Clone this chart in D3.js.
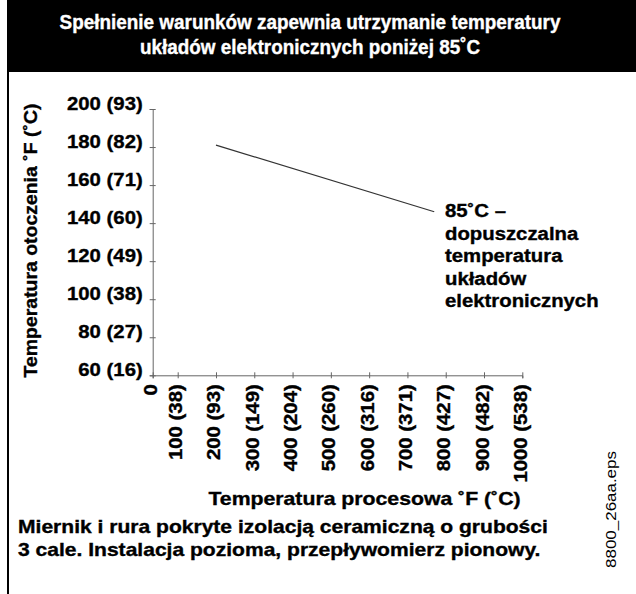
<!DOCTYPE html>
<html>
<head>
<meta charset="utf-8">
<script src="https://cdn.jsdelivr.net/npm/d3@7"></script>
<style>
  html, body { margin: 0; padding: 0; background: #fff; }
  svg { display: block; }
  text { font-family: "Liberation Sans", Arial, Helvetica, sans-serif; }
  text.heavy { stroke: currentColor; stroke-width: 0.35px; }
</style>
</head>
<body>
<svg id="chart" width="636" height="594"></svg>
<script>
// ---- data ----
const titleLines = ["Spełnienie warunków zapewnia utrzymanie temperatury", "układów elektronicznych poniżej 85˚C"];
const xTicks = [0, 100, 200, 300, 400, 500, 600, 700, 800, 900, 1000];
const xTickLabels = ["0", "100 (38)", "200 (93)", "300 (149)", "400 (204)", "500 (260)", "600 (316)", "700 (371)", "800 (427)", "900 (482)", "1000 (538)"];
const yTicks = [60, 80, 100, 120, 140, 160, 180, 200];
const yTickLabels = ["60 (16)", "80 (27)", "100 (38)", "120 (49)", "140 (60)", "160 (71)", "180 (82)", "200 (93)"];
const processTempF = [200, 770];
const ambientTempF = [181, 146];
const annotationLines = ["85˚C –", "dopuszczalna", "temperatura", "układów", "elektronicznych"];
const xTitle = "Temperatura procesowa ˚F (˚C)";
const yTitle = "Temperatura otoczenia ˚F (˚C)";
const noteLines = ["Miernik i rura pokryte izolacją ceramiczną o grubości", "3 cale. Instalacja pozioma, przepływomierz pionowy."];
const sideLabel = "8800_26aa.eps";

const svg = d3.select("#chart");
const FS = 18;
const SX = 1.13;   // horizontal stretch of the body font

// frame & title bar
svg.append("rect").attr("x", 7).attr("y", 0).attr("width", 629).attr("height", 72).attr("fill", "#000");
svg.append("rect").attr("x", 7).attr("y", 0).attr("width", 2).attr("height", 594).attr("fill", "#000");
svg.selectAll("text.title").data(titleLines).join("text")
  .attr("class", "title heavy")
  .attr("transform", (d, i) => `translate(310,${29 + i * 25}) scale(0.97,1)`)
  .attr("text-anchor", "middle").attr("fill", "#fff").style("color", "#fff")
  .attr("font-weight", "bold").attr("font-size", 19.5)
  .text(d => d);

// scales (x axis has a break between 0 and 100)
const x = d3.scaleLinear().domain([0, 100, 1000]).range([152.7, 177.7, 522.3]);
const y = d3.scaleLinear().domain([60, 200]).range([375.3, 109]);

// y axis
const yAxis = svg.append("g").attr("transform", `translate(${x(0)},0)`)
  .call(d3.axisLeft(y).tickValues(yTicks).tickFormat((d, i) => yTickLabels[i]).tickSize(3).tickPadding(0));
yAxis.select(".domain").attr("stroke", "#666");
yAxis.selectAll(".tick line").attr("stroke", "#666").attr("x1", -3).attr("x2", 3);
yAxis.selectAll(".tick text")
  .attr("class", "heavy").style("color", "#000")
  .attr("x", null).attr("dy", null)
  .attr("transform", "translate(-10,0) scale(" + SX + ",1)")
  .attr("text-anchor", "end").attr("fill", "#000")
  .attr("font-size", FS).attr("font-weight", "bold").attr("font-family", "'Liberation Sans', Arial, sans-serif");

// x axis
const xAxis = svg.append("g").attr("transform", `translate(0,${y(60)})`)
  .call(d3.axisBottom(x).tickValues(xTicks).tickFormat((d, i) => xTickLabels[i]).tickSize(3).tickPadding(0));
xAxis.select(".domain").attr("stroke", "#666");
xAxis.selectAll(".tick line").attr("stroke", "#666").attr("y1", -3).attr("y2", 3);
xAxis.selectAll(".tick text")
  .attr("class", "heavy").style("color", "#000")
  .attr("y", null).attr("dy", null)
  .attr("transform", "translate(4,9) rotate(-90) scale(" + SX + ",1)")
  .attr("text-anchor", "end").attr("fill", "#000")
  .attr("font-size", FS).attr("font-weight", "bold").attr("font-family", "'Liberation Sans', Arial, sans-serif");

// data line
const pts = processTempF.map((d, i) => [d, ambientTempF[i]]);
svg.append("path").datum(pts)
  .attr("d", d3.line().x(d => x(d[0])).y(d => y(d[1])))
  .attr("fill", "none").attr("stroke", "#333").attr("stroke-width", 1.2);

// annotation
svg.selectAll("text.ann").data(annotationLines).join("text")
  .attr("class", "ann heavy").style("color", "#000")
  .attr("transform", (d, i) => `translate(445,${217 + i * 22.5}) scale(${SX},1)`)
  .attr("font-weight", "bold").attr("font-size", FS)
  .text(d => d);

// axis titles
svg.append("text").attr("class", "heavy").style("color", "#000")
  .attr("transform", `translate(${(208 + 521) / 2},505) scale(1.18,1)`)
  .attr("text-anchor", "middle").attr("font-weight", "bold").attr("font-size", FS)
  .text(xTitle);
svg.append("text").attr("class", "heavy").style("color", "#000")
  .attr("transform", `translate(37,${(103 + 378) / 2}) rotate(-90) scale(1.08,1)`)
  .attr("text-anchor", "middle").attr("font-weight", "bold").attr("font-size", FS)
  .text(yTitle);

// footnote
svg.selectAll("text.note").data(noteLines).join("text")
  .attr("class", "note heavy").style("color", "#000")
  .attr("transform", (d, i) => `translate(18,${533 + i * 23}) scale(1.17,1)`)
  .attr("font-weight", "bold").attr("font-size", FS)
  .text(d => d);

// side file label
svg.append("text")
  .attr("transform", `translate(616,${(447 + 572) / 2}) rotate(-90) scale(${SX},1)`)
  .attr("text-anchor", "middle").attr("font-size", 15)
  .text(sideLabel);
</script>
</body>
</html>
